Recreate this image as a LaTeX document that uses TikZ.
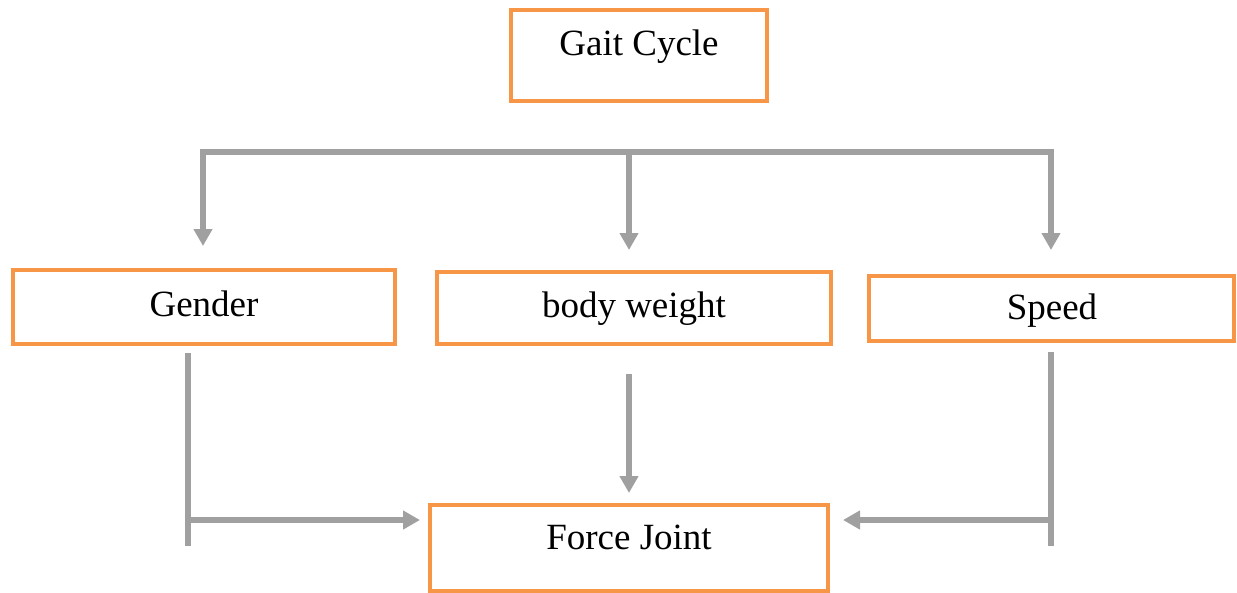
\documentclass[tikz,border=0pt]{standalone}
\usepackage{fontspec}
\setmainfont{Liberation Serif}
\usetikzlibrary{arrows.meta}
\definecolor{boxorange}{HTML}{F79646}
\definecolor{linegray}{HTML}{A0A0A0}
\begin{document}
\begin{tikzpicture}[x=1pt,y=-1pt,
  box/.style={draw=boxorange, line width=4pt, rectangle, inner sep=0pt},
  lbl/.style={font=\fontsize{37}{44}\selectfont, inner sep=0pt, anchor=base},
  conn/.style={draw=linegray, line width=5.5pt},
  arr/.style={conn, -{Triangle[width=18pt,length=17pt]}}]
\useasboundingbox (0,0) rectangle (1237,592);
% boxes
\node[box, minimum width=256pt, minimum height=91pt] (gait) at (639,55.5) {};
\node[box, minimum width=382pt, minimum height=74pt] (gender) at (204,307) {};
\node[box, minimum width=394pt, minimum height=72pt] (weight) at (634,308) {};
\node[box, minimum width=365pt, minimum height=65pt] (speed) at (1051.5,308.5) {};
\node[box, minimum width=398pt, minimum height=86pt] (force) at (629,548) {};
% labels
\node[lbl] (gaitT) at (639,55) {Gait Cycle};
\node[lbl] (genderT) at (204,316) {Gender};
\node[lbl] (weightT) at (634,317) {body weight};
\node[lbl] (speedT) at (1052,319) {Speed};
\node[lbl] (forceT) at (629,549) {Force Joint};
% connector coordinates
\coordinate (busL) at (203,152);
\coordinate (busM) at (629,152);
\coordinate (busR) at (1051,152);
\coordinate (tipL) at (203,246);
\coordinate (tipM) at (629,250);
\coordinate (tipR) at (1051,250);
\coordinate (gTop) at (188,353);
\coordinate (gBot) at (188,546);
\coordinate (gMid) at (188,520);
\coordinate (fL) at (420,520);
\coordinate (wTop) at (629,374);
\coordinate (wTip) at (629,493);
\coordinate (sTop) at (1051,352);
\coordinate (sBot) at (1051,546);
\coordinate (sMid) at (1051,520);
\coordinate (fR) at (843,520);
% connectors
\draw[conn] ([xshift=-2.75pt]busL) -- ([xshift=2.75pt]busR);
\draw[arr] ([yshift=-2.75pt]busL) -- (tipL);
\draw[arr] (busM) -- (tipM);
\draw[arr] ([yshift=-2.75pt]busR) -- (tipR);
\draw[conn] (gTop) -- (gBot);
\draw[arr] (gMid) -- (fL);
\draw[arr] (wTop) -- (wTip);
\draw[conn] (sTop) -- (sBot);
\draw[arr] (sMid) -- (fR);
\end{tikzpicture}
\end{document}
